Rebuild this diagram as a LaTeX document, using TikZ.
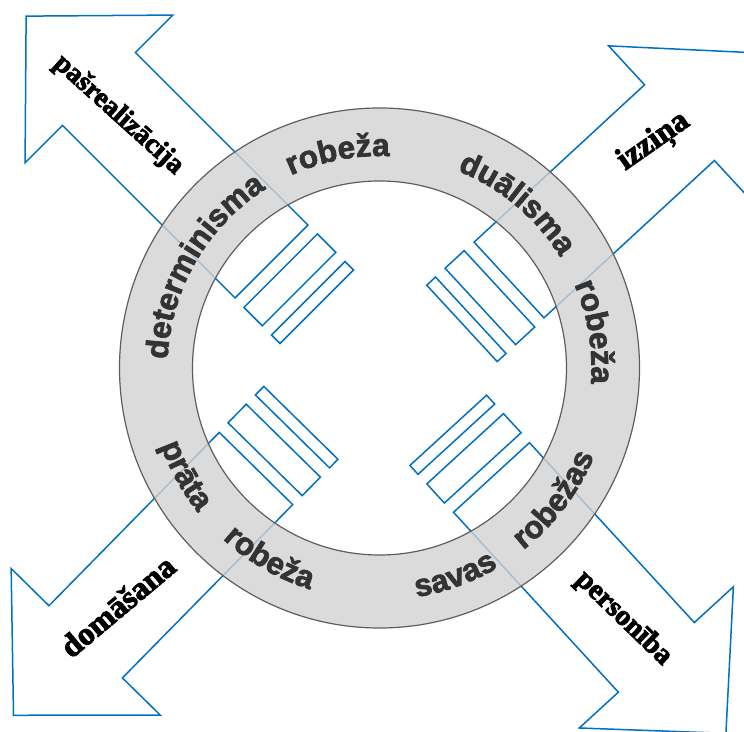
\documentclass[tikz,border=0pt]{standalone}
\usepackage{fontspec}
\usetikzlibrary{decorations.text}
\newfontfamily\ringfont[FakeBold=2.2]{Liberation Sans Bold}
\newfontfamily\labfont[FakeBold=3]{Liberation Serif Bold}
\definecolor{arrowblue}{HTML}{0070C0}
\definecolor{ringfill}{HTML}{D2D2D2}
\definecolor{ringedge}{HTML}{5E5E5E}
\definecolor{ringtxt}{HTML}{333333}
\tikzset{
  arrowline/.style={draw=arrowblue, line width=1.5pt, line join=miter},
  ringword/.style={decorate, decoration={text along path, text align=center,
     text={|\ringfont\fontsize{31.5}{31.5}\selectfont\color{ringtxt}|#1}}},
  armlabel/.style={font=\labfont, text=black, inner sep=0pt},
}
\newcommand\sdarrow[4]{%
  \begin{scope}[shift={(#1,#2)}, rotate=#3]
    \draw[arrowline] (0,-51.5) -- (#4,-51.5) -- (#4,-104.5) -- ({#4+103},0)
       -- (#4,104.5) -- (#4,51.5) -- (0,51.5) -- cycle;
    \draw[arrowline] (-39,-52) rectangle (-13,52);
    \draw[arrowline] (-64,-52) rectangle (-52,52);
  \end{scope}}
\begin{document}
\begin{tikzpicture}[x=1pt,y=1pt]
  \useasboundingbox (0,0) rectangle (744,731);
  \clip (0,0) rectangle (744,731);
  \coordinate (C) at (379.5,363);
  % arrows
  \sdarrow{271.5}{469.5}{135}{244}
  \sdarrow{256}{262.5}{225.5}{243}
  \sdarrow{509}{451}{42.7}{232}
  \sdarrow{491.5}{253.5}{-47.5}{244}
  % ring
  \fill[ringfill, fill opacity=0.8, even odd rule] (C) circle[radius=260] (C) circle[radius=187];
  \draw[ringedge, line width=1.2pt] (C) circle[radius=260] (C) circle[radius=187];
  % ring words
  \begin{scope}[shift={(C)}]
    \path[ringword={determinisma}] (190:212) arc[start angle=190, end angle=110, radius=212];
    \path[ringword={robeža}] (131:212) arc[start angle=131, end angle=71, radius=212];
    \path[ringword={duālisma}] (80:212) arc[start angle=80, end angle=20, radius=212];
    \path[ringword={robeža}] (39.5:212) arc[start angle=39.5, end angle=-20.5, radius=212];
    \path[ringword={prāta}] (179:232) arc[start angle=179, end angle=239, radius=232];
    \path[ringword={robeža}] (210:232) arc[start angle=210, end angle=270, radius=232];
    \path[ringword={savas}] (-100:232) arc[start angle=-100, end angle=-40, radius=232];
    \path[ringword={robežas}] (-67:232) arc[start angle=-67, end angle=-7, radius=232];
  \end{scope}
  % arm labels
  \node[armlabel, font=\labfont\fontsize{28}{28}\selectfont, rotate=-42] (l1) at (118.5,616) {pašrealizācija};
  \node[armlabel, font=\labfont\fontsize{32}{32}\selectfont, rotate=35] (l2) at (654,589) {izziņa};
  \node[armlabel, font=\labfont\fontsize{32}{32}\selectfont, rotate=40] (l3) at (117.5,125) {domāšana};
  \node[armlabel, font=\labfont\fontsize{29}{29}\selectfont, rotate=-44] (l4) at (623.5,112.5) {personība};
\end{tikzpicture}
\end{document}
